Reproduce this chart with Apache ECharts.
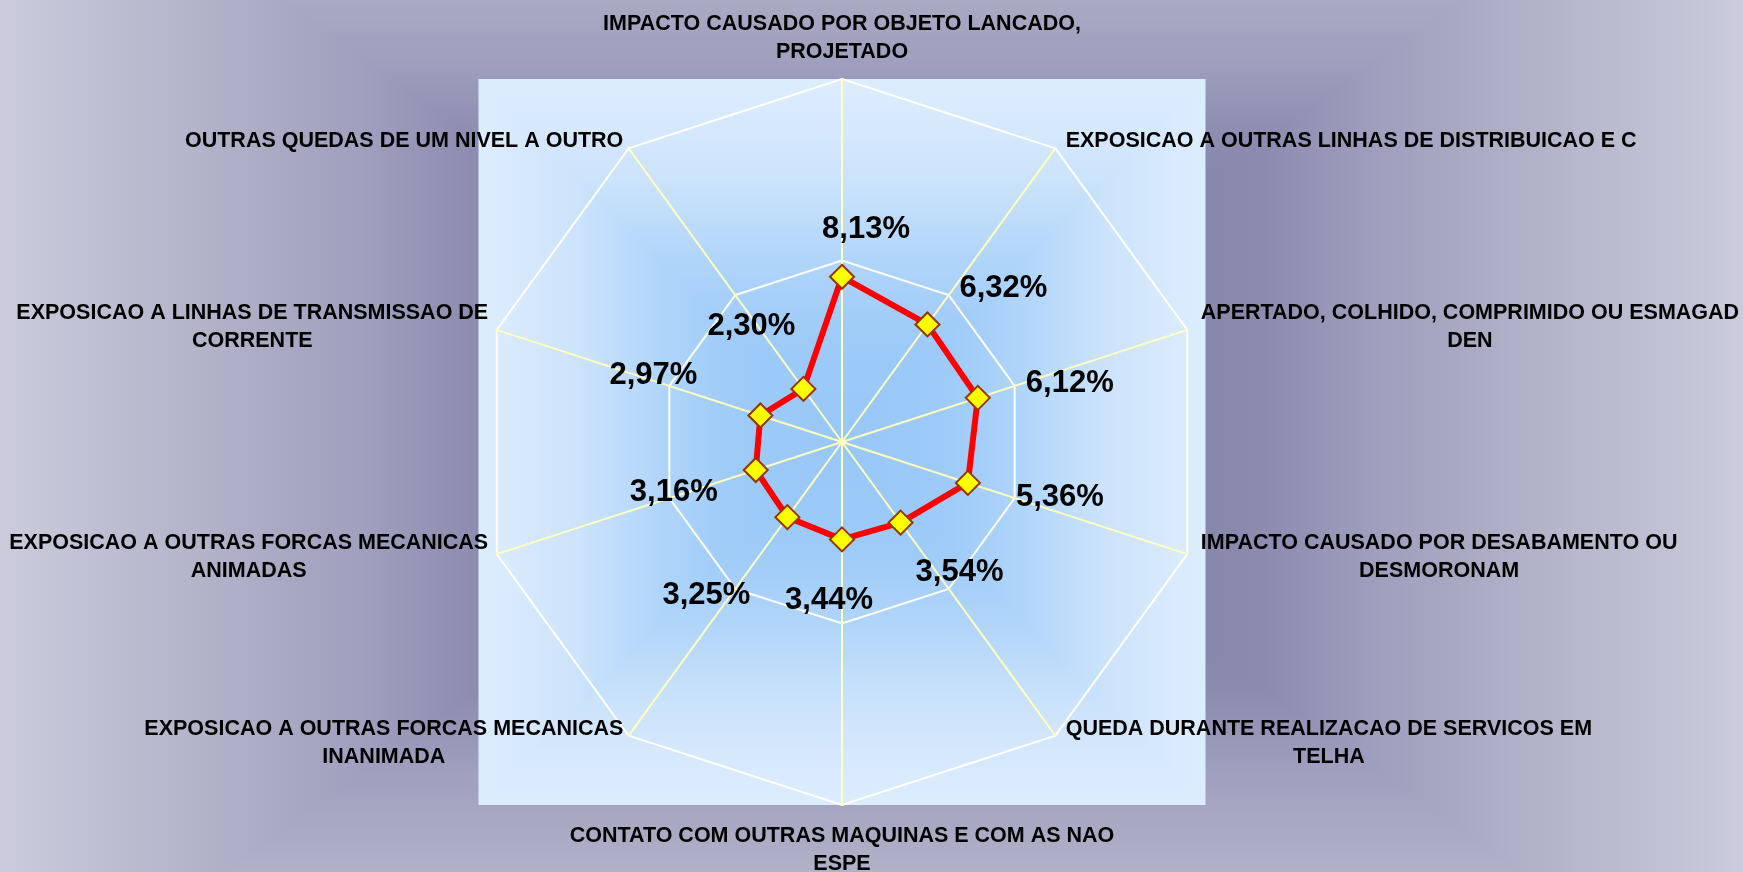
<!DOCTYPE html>
<html>
<head>
<meta charset="utf-8">
<title>Radar</title>
<script src="https://cdn.jsdelivr.net/npm/echarts@6/dist/echarts.min.js"></script>
<style>
html, body { margin: 0; padding: 0; }
#chart { width: 1743px; height: 872px; }
</style>
</head>
<body>
<div id="chart"></div>
<script>
// categorias no sentido horario, a partir do topo
var categorias = [
    'IMPACTO CAUSADO POR OBJETO LANCADO,\nPROJETADO',
    'EXPOSICAO A OUTRAS LINHAS DE DISTRIBUICAO E C',
    'APERTADO, COLHIDO, COMPRIMIDO OU ESMAGAD\nDEN',
    'IMPACTO CAUSADO POR DESABAMENTO OU\nDESMORONAM',
    'QUEDA DURANTE REALIZACAO DE SERVICOS EM\nTELHA',
    'CONTATO COM OUTRAS MAQUINAS E COM AS NAO\nESPE',
    'EXPOSICAO A OUTRAS FORCAS MECANICAS\nINANIMADA',
    'EXPOSICAO A OUTRAS FORCAS MECANICAS\nANIMADAS',
    'EXPOSICAO A LINHAS DE TRANSMISSAO DE\nCORRENTE',
    'OUTRAS QUEDAS DE UM NIVEL A OUTRO'
];
// percentuais (%)
var percentuais = [8.13, 6.32, 6.12, 5.36, 3.54, 3.44, 3.25, 3.16, 2.97, 2.30];
// eixo logaritmico: 1% .. 10% .. 100%
var escala = [1, 10, 100];

// deslocamento dos rotulos de dados em relacao ao marcador
var deslocRotulo = [[24, -47], [76, -36], [92, -14], [92, 15], [59, 50],
    [-13, 61], [-81, 78], [-82, 22], [-107, -40], [-52, -62]];

var chart = echarts.init(document.getElementById('chart'));

var CX = 842, CY = 442, R = 363;
var fonte = 'Liberation Sans, Arial, sans-serif';

// echarts desenha os indicadores no sentido anti-horario: inverte a ordem
var ordem = [0];
for (var i = categorias.length - 1; i > 0; i--) ordem.push(i);

// o radar do echarts nao aplica escala log aos dados: usa log10 num eixo linear
var logMin = Math.log10(escala[0]), logMax = Math.log10(escala[escala.length - 1]);
var indicadores = ordem.map(function (k) {
    return { name: categorias[k], min: logMin, max: logMax };
});
var valores = ordem.map(function (k) { return Math.log10(percentuais[k]); });

// estilos rich para deslocar cada rotulo
var richRotulos = {};
ordem.forEach(function (k, j) {
    var dx = deslocRotulo[k][0], dy = deslocRotulo[k][1];
    richRotulos['p' + j] = {
        color: '#000', fontFamily: fonte, fontWeight: 'bold', fontSize: 31,
        padding: [dy > 0 ? 2 * dy : 0, dx < 0 ? -2 * dx : 0, dy < 0 ? -2 * dy : 0, dx > 0 ? 2 * dx : 0]
    };
});

// gradiente retangular "do centro": base horizontal + trapezios em cima e embaixo
function gradRet(x0, y0, x1, y1, cx, cy, a, b, stops, z) {
    var hStops = [];
    stops.forEach(function (s) {
        hStops.push({ offset: (1 - s[0]) / 2, color: s[1] });
        hStops.push({ offset: (1 + s[0]) / 2, color: s[1] });
    });
    hStops.sort(function (p, q) { return p.offset - q.offset; });
    var vStops = stops.map(function (s) { return { offset: 1 - s[0], color: s[1] }; })
        .sort(function (p, q) { return p.offset - q.offset; });
    var wt = a * (cy - y0) / b, wb = a * (y1 - cy) / b;
    return [
        {
            type: 'rect', z: z, silent: true,
            shape: { x: x0, y: y0, width: x1 - x0, height: y1 - y0 },
            style: { fill: { type: 'linear', x: cx - a, y: 0, x2: cx + a, y2: 0, colorStops: hStops, global: true } }
        },
        {
            type: 'polygon', z: z + 1, silent: true,
            shape: { points: [[cx - wt, y0], [cx + wt, y0], [cx, cy]] },
            style: { fill: { type: 'linear', x: 0, y: cy - b, x2: 0, y2: cy, colorStops: vStops, global: true } }
        },
        {
            type: 'polygon', z: z + 1, silent: true,
            shape: { points: [[cx - wb, y1], [cx + wb, y1], [cx, cy]] },
            style: { fill: { type: 'linear', x: 0, y: cy + b, x2: 0, y2: cy, colorStops: vStops, global: true } }
        }
    ];
}

var fundo = gradRet(0, 0, 1743, 872, 871.5, 415, 871.5, 610,
    [[0, '#6e6e9c'], [0.455, '#8c8cb0'], [0.59, '#a0a0bf'], [0.715, '#adadc5'], [1, '#cbcbdd']], -20);
var areaPlot = gradRet(CX - R - 0.5, CY - R, CX + R + 0.5, CY + R, CX, CY, R + 0.5, R,
    [[0, '#98c8f8'], [0.3, '#9ecbf8'], [0.5, '#b0d5fa'], [0.7, '#c9e2fb'], [0.85, '#d5e8fc'], [1, '#dcedfd']], -10);

// estilo dos nomes dos eixos, com pequenos ajustes de afastamento
function estiloNome(pad) {
    return { align: 'center', color: '#000', fontFamily: fonte, fontWeight: 'bold', fontSize: 21.5, lineHeight: 28, padding: pad };
}

option = {
    backgroundColor: '#cbcbdd',
    animation: false,
    graphic: { elements: fundo.concat(areaPlot) },
    radar: {
        center: [CX, CY],
        radius: R,
        startAngle: 90,
        splitNumber: escala.length - 1,
        nameGap: 9,
        indicator: indicadores,
        axisName: {
            color: '#000',
            fontFamily: fonte,
            fontWeight: 'bold',
            fontSize: 21.5,
            formatter: function (nome) {
                var k = categorias.indexOf(nome);
                var estilo = k === 0 ? 't' : k === 5 ? 'b' : (k >= 1 && k <= 4) ? 'd' : 'c';
                return nome.split('\n').map(function (l) { return '{' + estilo + '|' + l + '}'; }).join('\n');
            },
            rich: {
                c: estiloNome(0),
                t: estiloNome([0, 0, 8, 0]),
                b: estiloNome([16, 0, 0, 0]),
                d: estiloNome([0, 0, 0, 5])
            }
        },
        axisLine: { lineStyle: { color: '#ffffbf', width: 2 } },
        splitLine: { lineStyle: { color: '#ffffff', width: 2 } },
        splitArea: { show: false },
        axisTick: { show: false },
        axisLabel: { show: false }
    },
    series: [
        {
            name: 'Percentual',
            type: 'radar',
            symbol: 'diamond',
            symbolSize: 24,
            lineStyle: { color: '#ff0000', width: 6 },
            itemStyle: { color: '#ffff00', borderColor: '#993300', borderWidth: 2 },
            label: {
                show: true,
                position: 'inside',
                color: '#000',
                formatter: function (p) {
                    var j = p.dimensionIndex;
                    var v = percentuais[ordem[j]];
                    return '{p' + j + '|' + v.toFixed(2).replace('.', ',') + '%}';
                },
                rich: richRotulos
            },
            data: [{ name: 'Percentual', value: valores }]
        }
    ]
};
chart.setOption(option);
</script>
</body>
</html>
